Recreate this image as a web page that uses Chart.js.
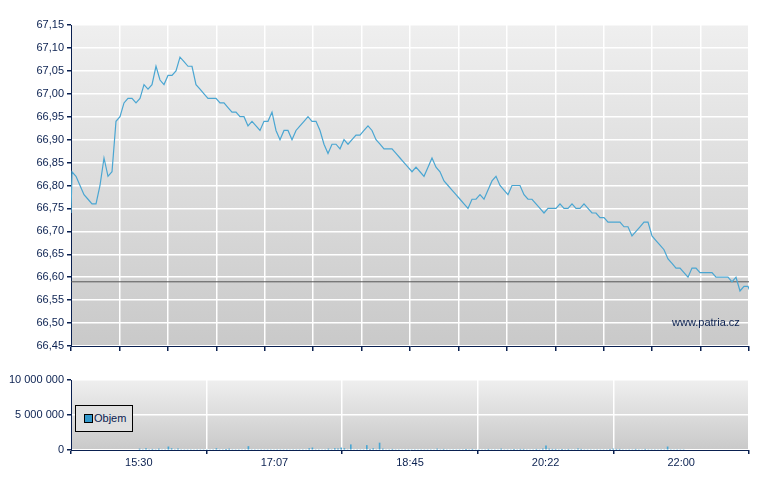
<!DOCTYPE html>
<html><head><meta charset="utf-8">
<script src="https://cdn.jsdelivr.net/npm/chart.js@4"></script>
<style>
body{margin:0;background:#fff;width:780px;height:490px;position:relative;overflow:hidden;font-family:"Liberation Sans",Arial,sans-serif}
canvas{position:absolute;left:0}
#wm{position:absolute;left:672px;top:316px;font-size:11px;color:#0a2050}
#lg{position:absolute;left:75px;top:405px;width:58px;height:27px;border:1px solid #000;background:#e0e0e0;font-size:11px;color:#0a2050;box-sizing:border-box}
#lg span{position:absolute;left:8px;top:8px;width:7px;height:7px;background:#3399cc;border:1px solid #000}
#lg b{position:absolute;left:18px;top:6px;font-weight:normal}
</style></head><body>
<canvas id="c1" width="780" height="356" style="top:0;width:780px;height:356px"></canvas>
<canvas id="c2" width="780" height="100" style="top:370px;width:780px;height:100px"></canvas>
<div id="wm">www.patria.cz</div>
<div id="lg"><span></span><b>Objem</b></div>
<script>
const firstPrice = 66.74;
const prices = [66.83,66.82,66.80,66.78,66.77,66.76,66.76,66.80,66.86,66.82,66.83,66.94,66.95,66.98,66.99,66.99,66.98,66.99,67.02,67.01,67.02,67.06,67.03,67.02,67.04,67.04,67.05,67.08,67.07,67.06,67.06,67.02,
67.01,67.00,66.99,66.99,66.99,66.98,66.98,66.97,66.96,66.96,66.95,66.95,66.93,66.94,66.93,66.92,66.94,66.94,66.96,66.92,66.90,66.92,66.92,66.90,66.92,66.93,66.94,66.95,66.94,66.94,66.92,66.89,66.87,66.89,66.89,66.88,66.90,66.89,66.90,66.91,66.91,66.92,66.93,66.92,66.90,66.89,66.88,66.88,66.88,66.87,66.86,66.85,66.84,66.83,66.84,66.83,66.82,66.84,66.86,66.84,66.83,66.81,66.80,66.79,66.78,66.77,66.76,66.75,66.77,66.77,66.78,66.77,66.79,66.81,66.82,66.80,66.79,66.78,66.80,66.80,66.80,66.78,66.77,66.77,66.76,66.75,66.74,66.75,66.75,66.75,66.76,66.75,66.75,66.76,66.75,66.75,66.76,66.75,66.74,66.74,66.73,66.73,66.72,66.72,66.72,66.72,66.71,66.71,66.69,66.70,66.71,66.72,66.72,66.69,66.68,66.67,66.66,66.64,66.63,66.62,66.62,66.61,66.60,66.62,66.62,66.61,66.61,66.61,66.61,66.60,66.60,66.60,66.60,66.59,66.60,66.57,66.58,66.58,66.56];
const volumes = [150000,0,200000,0,100000,0,150000,0,0,450000,200000,0,150000,0,0,0,0,0,0,0,0,0,0,0,200000,0,0,100000,150000,0,0,0,0,0,500000,0,0,0,0,0,0,0,0,0,0,0,0,0,0,0,0,0,0,200000,300000,0,0,0,0,150000,0,200000,150000,300000,200000,0,750000,0,0,0,0,650000,100000,200000,0,1000000,150000,0,0,100000,0,0,0,0,0,0,0,0,0,0,0,0,0,150000,0,100000,0,0,0,0,0,0,100000,0,100000,0,0,0,0,100000,0,0,0,150000,0,0,0,100000,0,100000,100000,0,0,0,100000,0,150000,600000,150000,100000,100000,0,100000,0,100000,0,0,150000,100000,0,0,0,0,0,0,0,0,100000,150000,100000,100000,0,0,0,0,100000,0,0,100000,0,0,0,0,0,0,450000,0,0,0,0,0,100000,0,0,0,0,0];
const prevClose = 66.59;
const xTickLabels = ["15:30","17:07","18:45","20:22","22:00"];
const yTicksPrice = {min:66.45,max:67.15,step:0.05};
const yTicksVol = {min:0,max:10000000,step:5000000};

const minPerPx = 390/678;
const times = prices.map((_,k)=> (1+4*k)*minPerPx);
const priceData = [{x:0,y:firstPrice}].concat(prices.map((p,i)=>({x:times[i],y:p})));
const volData = volumes.map((v,i)=>({x:times[i],y:v}));
const navy = '#0a2050';
const bgPlugin = {id:'bg',beforeDraw(c){const a=c.chartArea,ctx=c.ctx;const g=ctx.createLinearGradient(0,a.top,0,a.bottom);g.addColorStop(0,'#efefef');g.addColorStop(1,'#c9c9c9');ctx.save();ctx.fillStyle=g;ctx.fillRect(a.left,a.top,a.right-a.left,a.bottom-a.top);ctx.restore();}};
const font = {family:'"Liberation Sans", Arial, sans-serif',size:11};

new Chart(document.getElementById('c1'),{
 type:'line',
 data:{datasets:[
  {data:priceData,borderColor:'#4aa6d2',borderWidth:1.2,pointRadius:0,tension:0},
  {data:[{x:0,y:prevClose},{x:390,y:prevClose}],borderColor:'#555',borderWidth:1,pointRadius:0}
 ]},
 plugins:[bgPlugin],
 options:{responsive:false,animation:false,layout:{padding:{top:25,right:31,left:0,bottom:0}},
  plugins:{legend:{display:false},tooltip:{enabled:false}},
  scales:{
   x:{type:'linear',min:0,max:390,afterBuildTicks(s){const t=[];for(let i=0;i<=14;i++)t.push({value:390*i/14});s.ticks=t;},
      ticks:{display:false},grid:{color:'#ffffff',lineWidth:1.5,tickColor:navy,tickLength:5,drawTicks:true},border:{color:navy,width:1},afterFit(s){s.height=10;}},
   y:{min:yTicksPrice.min,max:yTicksPrice.max,afterBuildTicks(s){const t=[];for(let v=yTicksPrice.min;v<=yTicksPrice.max+1e-9;v+=yTicksPrice.step)t.push({value:+v.toFixed(2)});s.ticks=t;},
      ticks:{color:navy,font,padding:3,callback:v=>v.toFixed(2).replace('.',',')},
      grid:{color:'#ffffff',lineWidth:1.5,tickColor:navy,tickLength:4},border:{color:navy,width:1},afterFit(s){s.width=71;}}
  }}
});

new Chart(document.getElementById('c2'),{
 type:'bar',
 data:{datasets:[{data:volData,backgroundColor:'#4aa6d2',barThickness:1,categoryPercentage:1,barPercentage:1}]},
 plugins:[bgPlugin],
 options:{responsive:false,animation:false,layout:{padding:{top:10,right:31,left:0,bottom:0}},
  plugins:{legend:{display:false},tooltip:{enabled:false}},
  scales:{
   x:{type:'linear',min:0,max:390,afterBuildTicks(s){s.ticks=xTickLabels.map((_,i)=>({value:97.5*i}));},
      ticks:{color:navy,font,padding:2,maxRotation:0,callback:(v,i)=>xTickLabels[i]},
      grid:{color:'#ffffff',lineWidth:1.5,tickColor:navy,tickLength:4},border:{color:navy,width:1},afterFit(s){s.height=20;}},
   y:{min:yTicksVol.min,max:yTicksVol.max,afterBuildTicks(s){s.ticks=[0,5000000,10000000].map(v=>({value:v}));},
      ticks:{color:navy,font,padding:3,callback:v=>String(v).replace(/\B(?=(\d{3})+(?!\d))/g,' ')},
      grid:{color:'#ffffff',lineWidth:1.5,tickColor:navy,tickLength:4},border:{color:navy,width:1},afterFit(s){s.width=71;}}
  }}
});
</script></body></html>
